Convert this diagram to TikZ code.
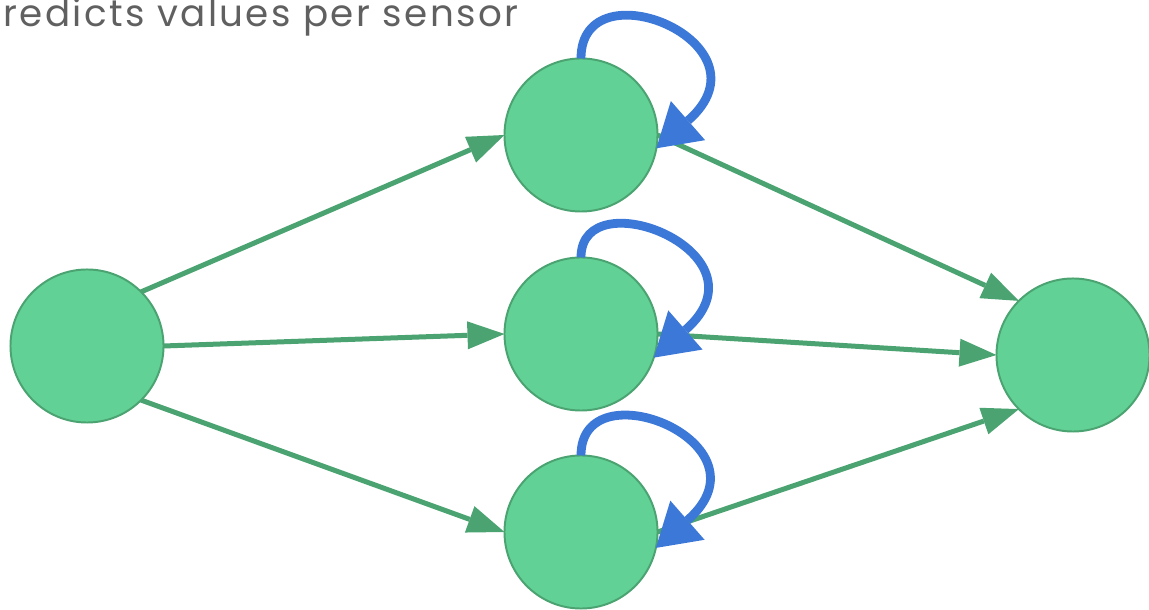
\documentclass[tikz,border=0pt]{standalone}
\usepackage{fontspec}
\setmainfont{Poppins}
\newfontfamily\captionfont[LetterSpace=6.5]{Poppins}
\usetikzlibrary{arrows.meta}
\definecolor{nodefill}{HTML}{62D196}
\definecolor{edgegreen}{HTML}{4AA371}
\definecolor{loopblue}{HTML}{3C78D8}
\definecolor{labelgray}{HTML}{606060}
\begin{document}
\begin{tikzpicture}[x=0.025cm, y=0.025cm,
  unit/.style={circle, draw=edgegreen, fill=nodefill, line width=1.4pt,
    minimum size=3.825cm, inner sep=0pt, outer sep=0pt},
  link/.style={draw=edgegreen, line width=0.125cm,
    -{Triangle[length=0.925cm, width=0.7cm, line width=0pt]}},
  recur/.style={draw=loopblue, line width=0.22cm,
    -{Triangle[length=1.05cm, width=1.3cm, line width=0pt]}},
  caption/.style={anchor=base west, text=labelgray, inner sep=0pt,
    font=\captionfont\fontsize{26.5}{30}\selectfont}]
\useasboundingbox (0,0) rectangle (1149,610);
\clip (0,0) rectangle (1149,610);

% caption
\node[caption] (title) at (3,583) {redicts values per sensor};

% input, hidden and output units
\node[unit] (in)  at (87,264) {};
\node[unit] (h1)  at (581,475) {};
\node[unit] (h2)  at (581,276) {};
\node[unit] (h3)  at (581,78) {};
\node[unit] (out) at (1073,255) {};

% feed-forward connections
\draw[link] (in.north east) -- (h1.west);
\draw[link] (in.east) -- (h2.west);
\draw[link] (in.south east) -- (h3.west);
\draw[link] (h1.east) -- (out.north west);
\draw[link] (h2.east) -- (out.west);
\draw[link] (h3.east) -- (out.south west);

% recurrent self-connections
\draw[recur] (h1.north) .. controls +(0,95) and +(120,105) .. (h1.-10);
\draw[recur] (h2.north) .. controls +(0,80) and +(120,105) .. (h2.-18);
\draw[recur] (h3.north) .. controls +(0,90) and +(120,105) .. (h3.-12);
\end{tikzpicture}
\end{document}
